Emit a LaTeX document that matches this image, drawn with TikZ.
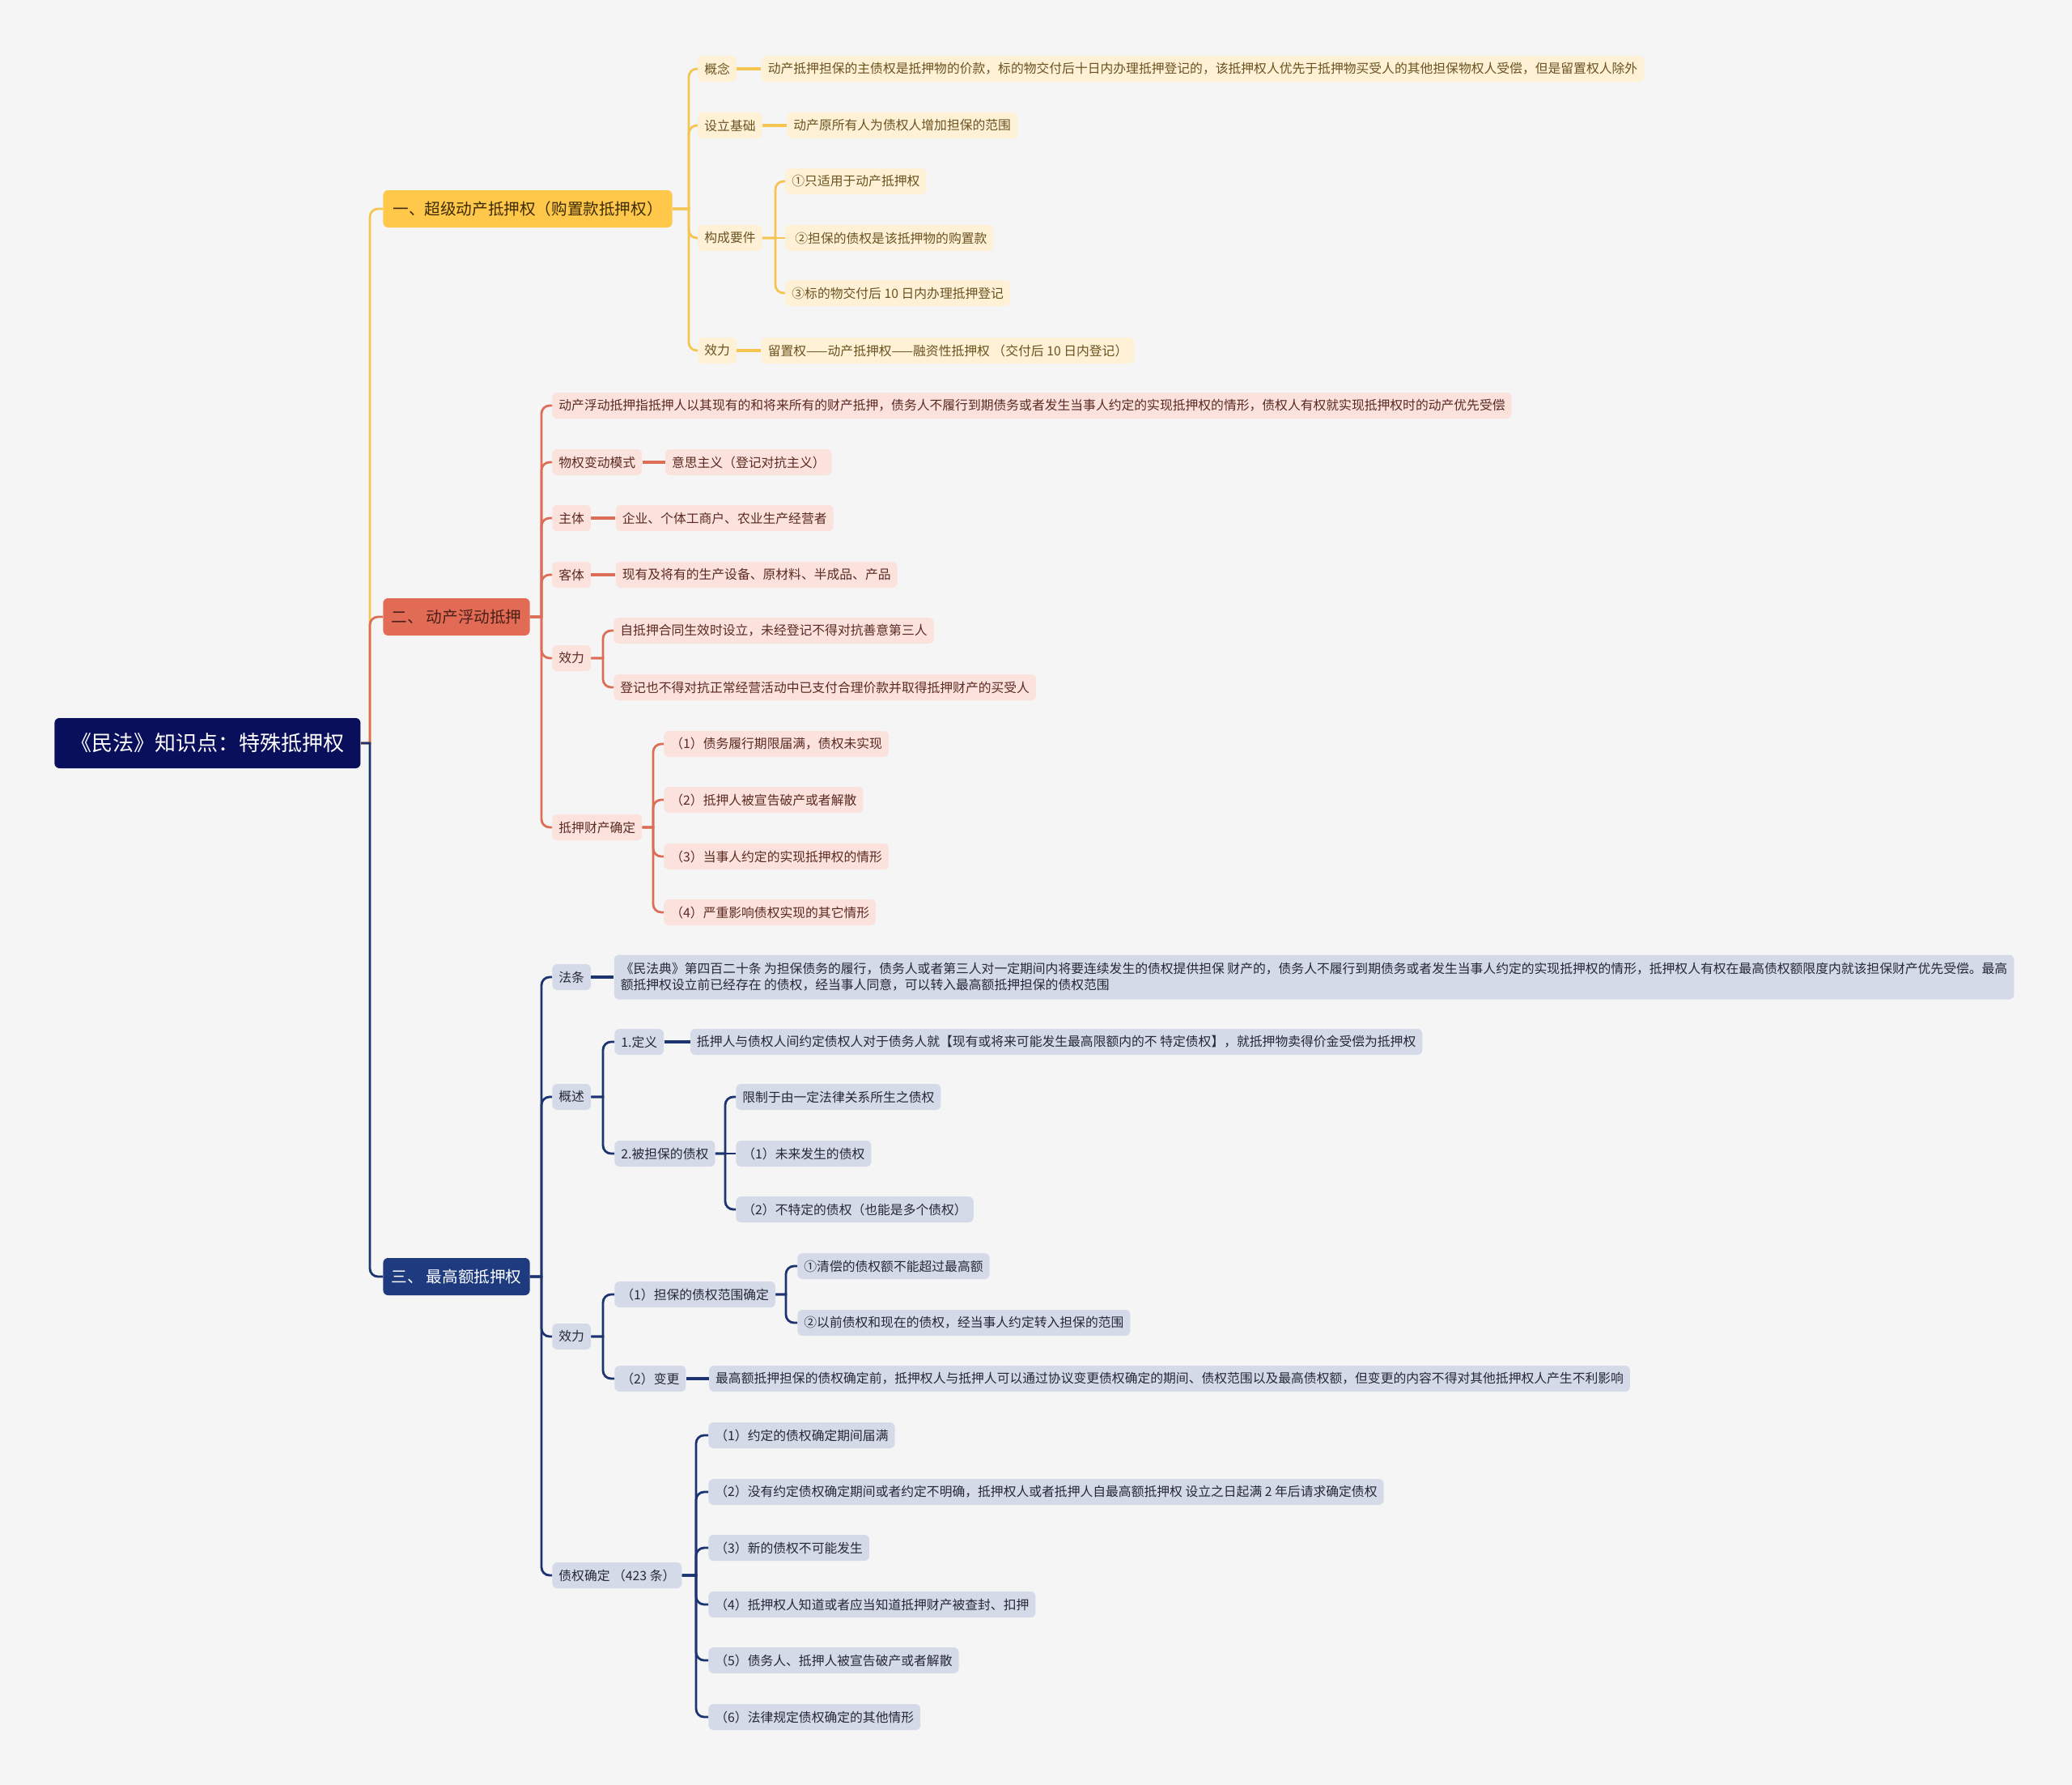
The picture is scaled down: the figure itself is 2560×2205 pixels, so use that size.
\documentclass[tikz,border=0pt]{standalone}
\usepackage{fontspec}
\setmainfont{Noto Sans CJK SC}
\usetikzlibrary{positioning}
\definecolor{bg}{HTML}{F5F5F5}
\definecolor{rootc}{HTML}{0A0F5C}
\definecolor{ymain}{HTML}{FFC84B}
\definecolor{ymaintext}{HTML}{3D2B05}
\definecolor{ysubc}{HTML}{FEF1D6}
\definecolor{ytext}{HTML}{6B5320}
\definecolor{ylinec}{HTML}{F5C550}
\definecolor{rmain}{HTML}{E26B55}
\definecolor{rmaintext}{HTML}{4A2018}
\definecolor{rsubc}{HTML}{FBE2DC}
\definecolor{rtext}{HTML}{5C2A22}
\definecolor{rlinec}{HTML}{DC6E58}
\definecolor{bmain}{HTML}{1E3B80}
\definecolor{bsubc}{HTML}{D5DAE8}
\definecolor{btext}{HTML}{242838}
\definecolor{blinec}{HTML}{1D3472}
\begin{document}
\begin{tikzpicture}[x=0.5pt,y=-0.5pt,
  box/.style={rounded corners=3pt, inner xsep=4pt, inner ysep=0pt, minimum height=16pt, anchor=west, font=\fontsize{7.9}{10}\selectfont},
  ysub/.style={box, fill=ysubc, text=ytext},
  rsub/.style={box, fill=rsubc, text=rtext},
  bsub/.style={box, fill=bsubc, text=btext},
  mainbox/.style={rounded corners=3pt, inner xsep=6pt, inner ysep=0pt, minimum height=23pt, anchor=west, font=\fontsize{9.8}{12}\selectfont},
  rootbox/.style={rounded corners=3pt, inner xsep=10pt, inner ysep=0pt, minimum height=31pt, anchor=west, font=\fontsize{13}{16}\selectfont, fill=rootc, text=white},
  ly/.style={line width=1.4pt, draw=ylinec},
  lr/.style={line width=1.4pt, draw=rlinec},
  lb/.style={line width=1.4pt, draw=blinec},
  thick link/.style={line width=2pt},
  rc/.style={rounded corners=5pt}
]
\path[fill=bg] (0,0) rectangle (2560,2205);

% ---------- nodes ----------
\node[rootbox] (root) at (67,918) {《民法》知识点：特殊抵押权};
\node[mainbox, fill=ymain, text=ymaintext] (Y) at (473,258) {一、超级动产抵押权（购置款抵押权）};
\node[mainbox, fill=rmain, text=rmaintext, inner xsep=5pt] (R) at (473,762) {二、 动产浮动抵押};
\node[mainbox, fill=bmain, text=white, inner xsep=5pt] (B) at (473,1577) {三、 最高额抵押权};

% yellow
\node[ysub] (y1) at (862,85) {概念};
\node[ysub, right=15pt of y1] (y1t) {动产抵押担保的主债权是抵押物的价款，标的物交付后十日内办理抵押登记的，该抵押权人优先于抵押物买受人的其他担保物权人受偿，但是留置权人除外};
\node[ysub] (y2) at (862,155) {设立基础};
\node[ysub, right=15pt of y2] (y2t) {动产原所有人为债权人增加担保的范围};
\node[ysub] (y3) at (862,294) {构成要件};
\node[ysub] (y3a) at (970,224) {①只适用于动产抵押权};
\node[ysub] (y3b) at (970,294) {\hspace{2pt}②担保的债权是该抵押物的购置款};
\node[ysub] (y3c) at (970,362) {③标的物交付后 10 日内办理抵押登记};
\node[ysub] (y4) at (862,433) {效力};
\node[ysub, right=15pt of y4] (y4t) {留置权——动产抵押权——融资性抵押权 （交付后 10 日内登记）};

% red
\node[rsub] (r1) at (682,501) {动产浮动抵押指抵押人以其现有的和将来所有的财产抵押，债务人不履行到期债务或者发生当事人约定的实现抵押权的情形，债权人有权就实现抵押权时的动产优先受偿};
\node[rsub] (r2) at (682,571) {物权变动模式};
\node[rsub, right=14pt of r2] (r2t) {意思主义（登记对抗主义）};
\node[rsub] (r3) at (682,640) {主体};
\node[rsub, right=15pt of r3] (r3t) {企业、个体工商户、农业生产经营者};
\node[rsub] (r4) at (682,710) {客体};
\node[rsub, right=15pt of r4] (r4t) {现有及将有的生产设备、原材料、半成品、产品};
\node[rsub] (r5) at (682,813) {效力};
\node[rsub] (r5a) at (758,779) {自抵押合同生效时设立，未经登记不得对抗善意第三人};
\node[rsub] (r5b) at (758,849) {登记也不得对抗正常经营活动中已支付合理价款并取得抵押财产的买受人};
\node[rsub] (r6) at (682,1022) {抵押财产确定};
\node[rsub] (r6a) at (820,919) {（1）债务履行期限届满，债权未实现};
\node[rsub] (r6b) at (820,988) {（2）抵押人被宣告破产或者解散};
\node[rsub] (r6c) at (820,1058) {（3）当事人约定的实现抵押权的情形};
\node[rsub] (r6d) at (820,1127) {（4）严重影响债权实现的其它情形};

% blue
\node[bsub] (b1) at (682,1207) {法条};
\node[bsub, right=14pt of b1, align=left, minimum height=27.5pt, font=\fontsize{7.9}{10}\selectfont] (b1t) {《民法典》第四百二十条 为担保债务的履行，债务人或者第三人对一定期间内将要连续发生的债权提供担保 财产的，债务人不履行到期债务或者发生当事人约定的实现抵押权的情形，抵押权人有权在最高债权额限度内就该担保财产优先受偿。最高\\额抵押权设立前已经存在 的债权，经当事人同意，可以转入最高额抵押担保的债权范围};
\node[bsub] (b2) at (682,1355) {概述};
\node[bsub] (b2a) at (759,1287) {1.定义};
\node[bsub, right=16pt of b2a] (b2at) {抵押人与债权人间约定债权人对于债务人就【现有或将来可能发生最高限额内的不 特定债权】，就抵押物卖得价金受偿为抵押权};
\node[bsub] (b2b) at (759,1425) {2.被担保的债权};
\node[bsub] (b2b1) at (909,1355) {限制于由一定法律关系所生之债权};
\node[bsub] (b2b2) at (909,1425) {（1）未来发生的债权};
\node[bsub] (b2b3) at (909,1494) {（2）不特定的债权（也能是多个债权）};
\node[bsub] (b3) at (682,1651) {效力};
\node[bsub] (b3a) at (759,1599) {（1）担保的债权范围确定};
\node[bsub] (b3a1) at (985,1564) {①清偿的债权额不能超过最高额};
\node[bsub] (b3a2) at (985,1634) {②以前债权和现在的债权，经当事人约定转入担保的范围};
\node[bsub] (b3b) at (759,1703) {（2）变更};
\node[bsub, right=14pt of b3b] (b3bt) {最高额抵押担保的债权确定前，抵押权人与抵押人可以通过协议变更债权确定的期间、债权范围以及最高债权额，但变更的内容不得对其他抵押权人产生不利影响};
\node[bsub] (b4) at (682,1946) {债权确定 （423 条）};
\node[bsub] (b4a) at (875,1773) {（1）约定的债权确定期间届满};
\node[bsub] (b4b) at (875,1843) {（2）没有约定债权确定期间或者约定不明确，抵押权人或者抵押人自最高额抵押权 设立之日起满 2 年后请求确定债权};
\node[bsub] (b4c) at (875,1912) {（3）新的债权不可能发生};
\node[bsub] (b4d) at (875,1982) {（4）抵押权人知道或者应当知道抵押财产被查封、扣押};
\node[bsub] (b4e) at (875,2051) {（5）债务人、抵押人被宣告破产或者解散};
\node[bsub] (b4f) at (875,2121) {（6）法律规定债权确定的其他情形};

% ---------- spine coordinates ----------
\coordinate (sRoot) at (457,918);
\coordinate (sY) at (851,258);
\coordinate (sY3) at (958,294);
\coordinate (sR) at (669,762);
\coordinate (sR5) at (745,813);
\coordinate (sR6) at (807,1022);
\coordinate (sB) at (669,1577);
\coordinate (sB2) at (745,1355);
\coordinate (sB2b) at (896,1425);
\coordinate (sB3) at (745,1651);
\coordinate (sB3a) at (971,1599);
\coordinate (sB4) at (860,1946);

% ---------- connectors ----------
% root
\draw[ly] (root.east) -- (root.east -| sRoot) [rc] |- (Y.west);
\draw[lr] (root.east) -- (root.east -| sRoot) [rc] |- (R.west);
\draw[lb] (root.east) -- (root.east -| sRoot) [rc] |- (B.west);

% yellow
\foreach \c in {y1,y2,y3,y4}
  \draw[ly] (Y.east) -- (Y.east -| sY) [rc] |- (\c.west);
\draw[ly, thick link] (y1.east) -- (y1t.west);
\draw[ly, thick link] (y2.east) -- (y2t.west);
\draw[ly, thick link] (y4.east) -- (y4t.west);
\foreach \c in {y3a,y3c}
  \draw[ly] (y3.east) -- (y3.east -| sY3) [rc] |- (\c.west);
\draw[ly] (y3.east) -- (y3b.west);

% red
\foreach \c in {r1,r2,r3,r4,r5,r6}
  \draw[lr] (R.east) -- (R.east -| sR) [rc] |- (\c.west);
\draw[lr, thick link] (r2.east) -- (r2t.west);
\draw[lr, thick link] (r3.east) -- (r3t.west);
\draw[lr, thick link] (r4.east) -- (r4t.west);
\foreach \c in {r5a,r5b}
  \draw[lr] (r5.east) -- (r5.east -| sR5) [rc] |- (\c.west);
\foreach \c in {r6a,r6b,r6c,r6d}
  \draw[lr] (r6.east) -- (r6.east -| sR6) [rc] |- (\c.west);

% blue
\foreach \c in {b1,b2,b3,b4}
  \draw[lb] (B.east) -- (B.east -| sB) [rc] |- (\c.west);
\draw[lb, thick link] (b1.east) -- (b1t.west);
\foreach \c in {b2a,b2b}
  \draw[lb] (b2.east) -- (b2.east -| sB2) [rc] |- (\c.west);
\draw[lb, thick link] (b2a.east) -- (b2at.west);
\foreach \c in {b2b1,b2b3}
  \draw[lb] (b2b.east) -- (b2b.east -| sB2b) [rc] |- (\c.west);
\draw[lb] (b2b.east) -- (b2b2.west);
\foreach \c in {b3a,b3b}
  \draw[lb] (b3.east) -- (b3.east -| sB3) [rc] |- (\c.west);
\foreach \c in {b3a1,b3a2}
  \draw[lb] (b3a.east) -- (b3a.east -| sB3a) [rc] |- (\c.west);
\draw[lb, thick link] (b3b.east) -- (b3bt.west);
\foreach \c in {b4a,b4b,b4c,b4d,b4e,b4f}
  \draw[lb] (b4.east) -- (b4.east -| sB4) [rc] |- (\c.west);
\end{tikzpicture}
\end{document}
